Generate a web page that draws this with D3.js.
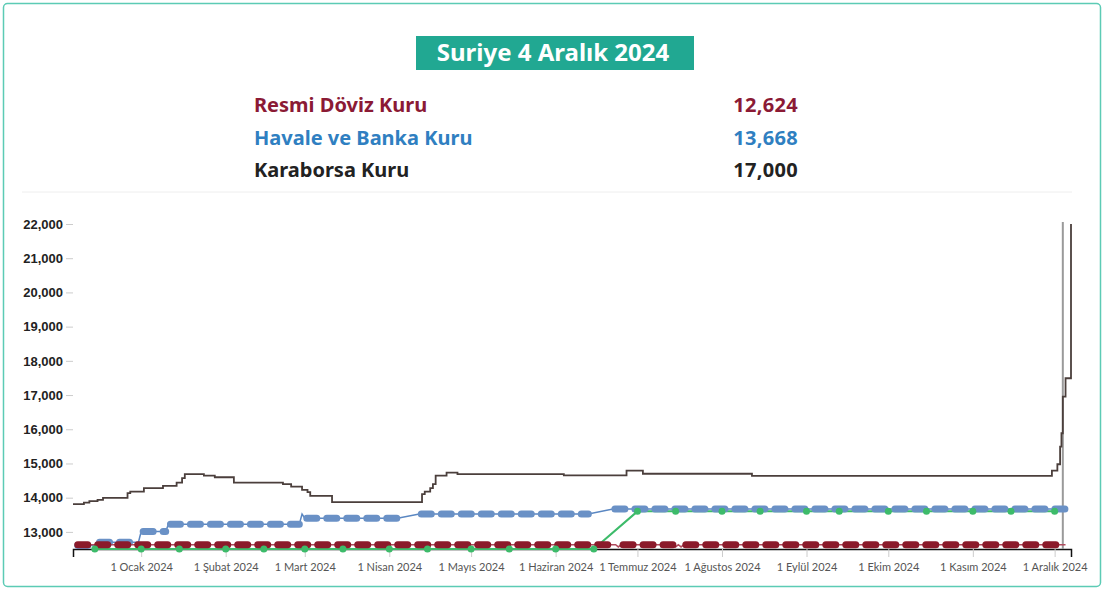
<!DOCTYPE html>
<html>
<head>
<meta charset="utf-8">
<script src="https://cdn.jsdelivr.net/npm/d3@7"></script>
<style>
body { margin: 0; background: #fff; }
svg { display: block; }
</style>
</head>
<body>
<div id="chart"></div>
<script>
// data
const titleText = 'Suriye 4 Aralık 2024'
const legendLabels = ['Resmi Döviz Kuru', 'Havale ve Banka Kuru', 'Karaborsa Kuru']
const legendValues = ['12,624', '13,668', '17,000']
const legendColors = ['#8b1a35', '#2f7fc1', '#222222']

const xDomain = ['2023-12-07', '2024-12-07']
const yDomain = [12500, 22000]
const yTicks = [13000, 14000, 15000, 16000, 17000, 18000, 19000, 20000, 21000, 22000]
const xTickDates = ['2024-01-01', '2024-02-01', '2024-03-01', '2024-04-01', '2024-05-01', '2024-06-01',
                    '2024-07-01', '2024-08-01', '2024-09-01', '2024-10-01', '2024-11-01', '2024-12-01']
const monthNames = ['Ocak', 'Şubat', 'Mart', 'Nisan', 'Mayıs', 'Haziran',
                    'Temmuz', 'Ağustos', 'Eylül', 'Ekim', 'Kasım', 'Aralık']
const todayDate = '2024-12-04'

const resmi = [
  ['2023-12-08', 12624], ['2024-06-23', 12624], ['2024-06-24', 12560], ['2024-06-25', 12624],
  ['2024-07-14', 12624], ['2024-07-15', 12560], ['2024-07-16', 12624], ['2024-07-17', 12560],
  ['2024-07-18', 12624], ['2024-12-05', 12624]
]

const havale = [
  ['2023-12-08', 12600], ['2023-12-15', 12600], ['2023-12-16', 12700], ['2023-12-31', 12700],
  ['2024-01-01', 13010], ['2024-01-10', 13010], ['2024-01-11', 13225], ['2024-02-28', 13225],
  ['2024-02-29', 13520], ['2024-03-01', 13400], ['2024-04-04', 13400], ['2024-04-12', 13520],
  ['2024-06-13', 13520], ['2024-06-22', 13668], ['2024-12-05', 13668]
]

const green = [
  ['2023-12-15', 12500], ['2024-01-01', 12500], ['2024-01-15', 12500], ['2024-02-01', 12500],
  ['2024-02-15', 12500], ['2024-03-01', 12500], ['2024-03-15', 12500], ['2024-04-01', 12500],
  ['2024-04-15', 12500], ['2024-05-01', 12500], ['2024-05-15', 12500], ['2024-06-01', 12500],
  ['2024-06-15', 12500], ['2024-07-01', 13600], ['2024-07-15', 13600], ['2024-08-01', 13600],
  ['2024-08-15', 13600], ['2024-09-01', 13600], ['2024-09-13', 13600], ['2024-10-01', 13600],
  ['2024-10-15', 13600], ['2024-11-01', 13600], ['2024-11-15', 13600], ['2024-12-01', 13600]
]

const karaborsa = [
  ['2023-12-07', 13810], ['2023-12-11', 13856], ['2023-12-13', 13897], ['2023-12-16', 13935],
  ['2023-12-18', 13994], ['2023-12-27', 14131], ['2023-12-28', 14178], ['2024-01-02', 14277],
  ['2024-01-09', 14344], ['2024-01-14', 14441], ['2024-01-16', 14569], ['2024-01-17', 14686],
  ['2024-01-24', 14645], ['2024-01-28', 14598], ['2024-02-04', 14441], ['2024-02-22', 14394],
  ['2024-02-25', 14324], ['2024-02-29', 14227], ['2024-03-02', 14160], ['2024-03-03', 14052],
  ['2024-03-11', 13868], ['2024-04-13', 14102], ['2024-04-14', 14178], ['2024-04-16', 14277],
  ['2024-04-17', 14394], ['2024-04-18', 14645], ['2024-04-22', 14733], ['2024-04-26', 14686],
  ['2024-06-04', 14650], ['2024-06-27', 14790], ['2024-07-03', 14700], ['2024-08-12', 14640],
  ['2024-11-30', 14791], ['2024-12-02', 14978], ['2024-12-03', 15493], ['2024-12-03T12:00', 15884],
  ['2024-12-04', 16954], ['2024-12-05', 17491], ['2024-12-07', 22000]
]

init()

function init(){
    const width = 1104, height = 591
    const parse = s => new Date(s.length > 10 ? s : s + 'T00:00')
    const font = '"Noto Sans", "Open Sans", sans-serif'

    let svg = d3.select('#chart')
                .append('svg')
                .attr('width', width)
                .attr('height', height)

    // outer frame
    svg.append('rect')
        .attr('x', 3.5).attr('y', 3.5)
        .attr('width', width - 7).attr('height', height - 8)
        .attr('rx', 4)
        .style('fill', '#fff')
        .style('stroke', '#5ccbb5')
        .style('stroke-width', 1.5)

    // title box
    svg.append('rect')
        .attr('x', 416).attr('y', 36)
        .attr('width', 278).attr('height', 34)
        .style('fill', '#21a892')

    svg.append('text')
        .attr('x', 553).attr('y', 61)
        .attr('text-anchor', 'middle')
        .style('font-family', font)
        .style('font-weight', 700)
        .style('font-size', '24px')
        .style('fill', '#fff')
        .text(titleText)

    // legend rows
    const legendBase = [112, 145, 177]
    legendLabels.forEach((label, i) => {
        svg.append('text')
            .attr('x', 254).attr('y', legendBase[i])
            .style('font-family', font)
            .style('font-weight', 700)
            .style('font-size', '20px')
            .style('fill', legendColors[i])
            .text(label)
        svg.append('text')
            .attr('x', 798).attr('y', legendBase[i])
            .attr('text-anchor', 'end')
            .style('font-family', font)
            .style('font-weight', 700)
            .style('font-size', '20px')
            .style('letter-spacing', '0.3px')
            .style('fill', legendColors[i])
            .text(legendValues[i])
    })

    svg.append('line')
        .attr('x1', 22).attr('x2', 1072)
        .attr('y1', 192).attr('y2', 192)
        .style('stroke', '#eeeeee')
        .style('stroke-width', 1)

    // scales
    const x = d3.scaleTime()
        .domain(xDomain.map(parse))
        .range([73, 1071])
    const y = d3.scaleLinear()
        .domain(yDomain)
        .range([549, 224])

    // y axis
    let yAxis = svg.append('g')
        .attr('transform', 'translate(73,0)')
        .call(d3.axisLeft(y).tickValues(yTicks).tickFormat(d3.format(',')).tickSize(7).tickPadding(3))
    yAxis.select('.domain').remove()
    yAxis.selectAll('.tick line').style('stroke', '#cccccc')
    yAxis.selectAll('.tick text')
        .style('font-family', '"Liberation Sans", Arial, sans-serif')
        .style('font-weight', 700)
        .style('font-size', '13px')
        .style('fill', '#222')

    // x axis
    let xAxis = svg.append('g')
        .attr('transform', 'translate(0,549)')
        .call(d3.axisBottom(x)
            .tickValues(xTickDates.map(parse))
            .tickFormat(d => '1 ' + monthNames[d.getMonth()] + ' ' + d.getFullYear())
            .tickSizeInner(8)
            .tickSizeOuter(8)
            .tickPadding(6))
    xAxis.select('.domain').style('stroke', '#111').style('stroke-width', 1.5)
    xAxis.selectAll('.tick line').style('stroke', '#cccccc')
    xAxis.selectAll('.tick text')
        .style('font-family', 'Lato, "Open Sans", sans-serif')
        .style('font-size', '11px')
        .style('fill', '#555')

    // today marker
    svg.append('line')
        .attr('x1', x(parse(todayDate))).attr('x2', x(parse(todayDate)))
        .attr('y1', 222).attr('y2', y(yDomain[0]))
        .style('stroke', '#9a9a9a')
        .style('stroke-width', 2)

    const line = d3.line()
        .x(d => x(parse(d[0])))
        .y(d => y(d[1]))

    // karaborsa step line
    svg.append('path')
        .datum(karaborsa)
        .attr('d', line.curve(d3.curveStepAfter))
        .style('fill', 'none')
        .style('stroke', '#4b3f3c')
        .style('stroke-width', 1.8)
    line.curve(d3.curveLinear)

    // green line
    svg.append('path')
        .datum(green)
        .attr('d', line)
        .style('fill', 'none')
        .style('stroke', '#3dbb6a')
        .style('stroke-width', 2)

    // thin + thick dashed series
    function dashedSeries(data, thin, thick){
        svg.append('path')
            .datum(data)
            .attr('d', line)
            .style('fill', 'none')
            .style('stroke', thin)
            .style('stroke-width', 1.5)
        const flats = d3.pairs(data).filter(p => p[0][1] === p[1][1])
        svg.append('g').selectAll('line')
            .data(flats)
            .join('line')
            .attr('x1', p => x(parse(p[0][0])) + 2)
            .attr('x2', p => x(parse(p[1][0])))
            .attr('y1', p => y(p[0][1]))
            .attr('y2', p => y(p[1][1]))
            .style('stroke', thick)
            .style('stroke-width', 7)
            .style('stroke-linecap', 'round')
            .style('stroke-dasharray', '10 10')
    }

    dashedSeries(havale, '#5a87c2', '#6a91c6')
    dashedSeries(resmi, '#b04a5c', '#8b1a2a')

    // green markers
    svg.append('g').selectAll('circle')
        .data(green)
        .join('circle')
        .attr('cx', d => x(parse(d[0])))
        .attr('cy', d => y(d[1]))
        .attr('r', 3.5)
        .style('fill', '#3dbb6a')
}
</script>
</body>
</html>
